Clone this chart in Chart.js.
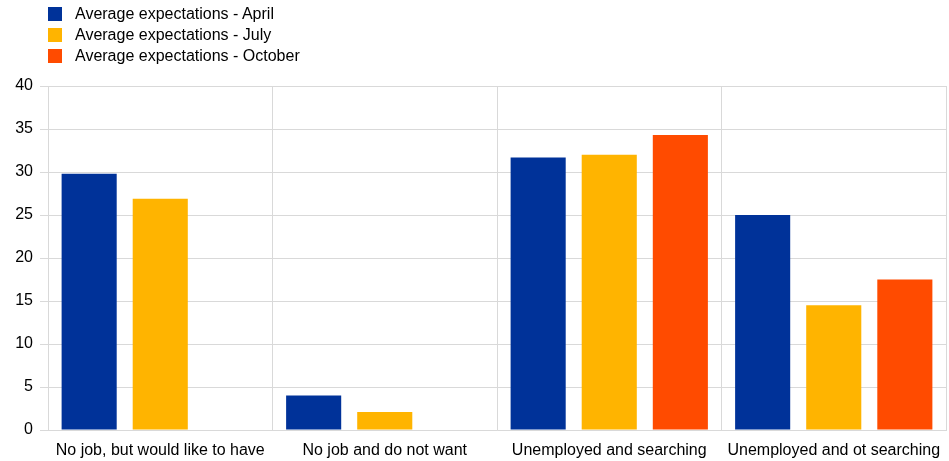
<!DOCTYPE html>
<html>
<head>
<meta charset="utf-8">
<script src="https://cdn.jsdelivr.net/npm/chart.js@4.4.0/dist/chart.umd.min.js"></script>
<style>
  html, body { margin: 0; padding: 0; background: #fff; }
  #wrap { position: relative; width: 949px; height: 461px; }
  #legend { position: absolute; left: 48px; top: 4px; font-family: 'Liberation Sans', Arial, sans-serif; font-size: 16px; color: #000; }
  #legend .item { display: flex; align-items: center; height: 20.7px; }
  #legend .box { width: 14px; height: 14px; margin-right: 13px; }
</style>
</head>
<body>
<div id="wrap">
  <div id="legend"></div>
  <canvas id="mainChart" width="949" height="461"></canvas>
</div>
<script>
// Chart data
const categories = ['No job, but would like to have', 'No job and do not want', 'Unemployed and searching', 'Unemployed and ot searching'];
const seriesNames = ['Average expectations - April', 'Average expectations - July', 'Average expectations - October'];
const aprilValues = [29.8, 4.0, 31.7, 25.0];
const julyValues = [26.9, 2.1, 32.0, 14.5];
const octoberValues = [null, null, 34.3, 17.5];
const seriesColors = ['#003299', '#FFB400', '#FF4B00'];

const seriesValues = [aprilValues, julyValues, octoberValues];
const font = { family: "'Liberation Sans', Arial, sans-serif", size: 16 };

// Build HTML legend
const legend = document.getElementById('legend');
seriesNames.forEach((name, i) => {
  const item = document.createElement('div');
  item.className = 'item';
  const box = document.createElement('span');
  box.className = 'box';
  box.style.background = seriesColors[i];
  const label = document.createElement('span');
  label.textContent = name;
  item.appendChild(box);
  item.appendChild(label);
  legend.appendChild(item);
});

const ctx = document.getElementById('mainChart').getContext('2d');
const chart = new Chart(ctx, {
  type: 'bar',
  data: {
    labels: categories,
    datasets: seriesNames.map((name, i) => ({
      label: name,
      data: seriesValues[i],
      backgroundColor: seriesColors[i],
      borderWidth: 0,
      categoryPercentage: 0.95,
      barPercentage: 0.775
    }))
  },
  options: {
    responsive: false,
    animation: false,
    layout: { padding: { top: 86, right: 3, left: 0, bottom: 0 } },
    plugins: {
      legend: { display: false },
      tooltip: { enabled: false }
    },
    scales: {
      x: {
        grid: { color: '#d9d9d9', drawTicks: false, offset: true },
        border: { color: '#d9d9d9' },
        ticks: { color: '#000', font: font, padding: 11, maxRotation: 0 },
        afterFit: (scale) => {
          scale.height = 31;
          // labels fit inside the page, ignore their overflow padding
          scale.paddingLeft = 0;
          scale.paddingRight = 0;
        }
      },
      y: {
        min: 0,
        max: 40,
        grid: { color: '#d9d9d9', tickLength: 8 },
        border: { color: '#d9d9d9' },
        ticks: { color: '#000', font: font, stepSize: 5, padding: 7 },
        afterFit: (scale) => { scale.width = 48; }
      }
    }
  }
});
</script>
</body>
</html>
